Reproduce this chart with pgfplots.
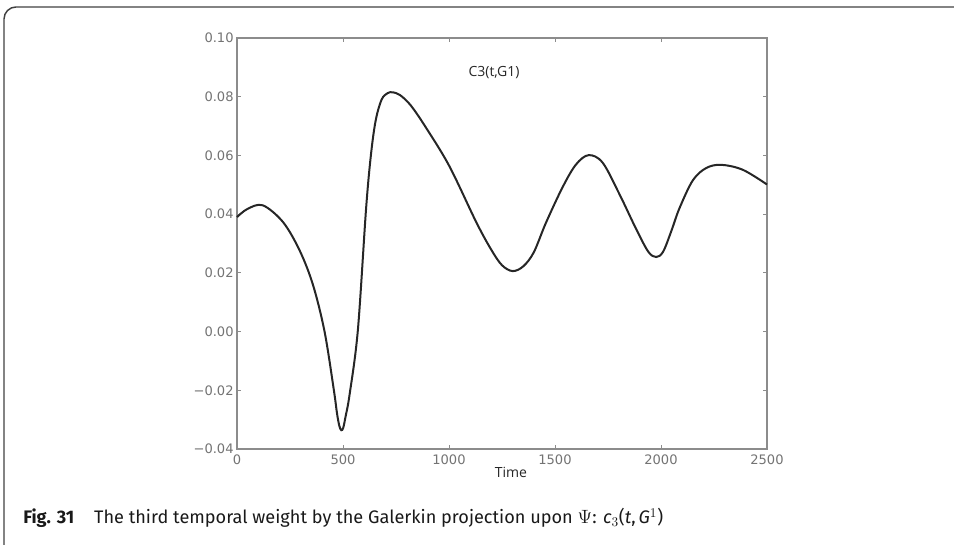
\documentclass[border=0pt]{standalone}
\usepackage{fontspec}
\setmainfont{Fira Sans}
\newfontfamily\dejavu{DejaVu Sans}
\newfontfamily\opensans{Open Sans}
\usepackage{pgfplots}
\pgfplotsset{compat=1.18}
\begin{document}
\begin{tikzpicture}[x=0.75pt,y=0.75pt]
\useasboundingbox (0,0) rectangle (954,545);
\draw[line width=1.1pt, black!75, rounded corners=9pt] (4,-5) -- (4,538) -- (960,538);
\begin{axis}[
  at={(177.75pt,72pt)}, anchor=south west,
  scale only axis, width=397.5pt, height=308.25pt,
  xmin=0, xmax=2500, ymin=-0.04, ymax=0.10,
  xtick={0,500,1000,1500,2000,2500},
  xticklabels={0,500,1000,1500,2000,2500},
  ytick={-0.04,-0.02,0,0.02,0.04,0.06,0.08,0.10},
  yticklabels={−0.04,−0.02,0.00,0.02,0.04,0.06,0.08,0.10},
  tick align=inside, major tick length=3pt,
  tick style={black!45, line width=0.6pt},
  axis line style={black!45, line width=1.1pt},
  ticklabel style={font=\dejavu\fontsize{9.8}{10}\selectfont, text=black!55},
  xticklabel style={yshift=-1pt},
  yticklabel style={xshift=1pt},
  xtick pos=both, ytick pos=both,
  scaled y ticks=false,
  clip=false,
]
\addplot[black!85, line width=1.5pt, smooth, tension=0.55] coordinates {
(0,0.0390) (50,0.0418) (122,0.0430) (217,0.0373) (295,0.0277) (358,0.0160)
(413,0.0000) (457,-0.0200) (472,-0.0280) (483,-0.0322) (492,-0.0336) (501,-0.0328)
(512,-0.0290) (531,-0.0215) (570,0.0004) (609,0.0420) (633,0.0610) (655,0.0722)
(682,0.0790) (710,0.0812) (735,0.0815) (770,0.0805) (820,0.0770) (892,0.0694) (1002,0.0563)
(1129,0.0372) (1200,0.0278) (1250,0.0226) (1300,0.0206) (1350,0.0222)
(1400,0.0270) (1457,0.0370) (1536,0.0492) (1599,0.0569) (1659,0.0601)
(1725,0.0575) (1804,0.0468) (1883,0.0349) (1940,0.0272) (1977,0.0254)
(2010,0.0272) (2050,0.0345) (2087,0.0420) (2150,0.0515) (2213,0.0557)
(2284,0.0568) (2386,0.0551) (2500,0.0501)
};
\node[font=\opensans\fontsize{10.5}{11}\selectfont, text=black!85] at (rel axis cs:0.517,-0.056) {Time};
\node[font=\opensans\fontsize{10.5}{11}\selectfont, text=black!85] at (rel axis cs:0.485,0.915) {C3(t,G1)};
\end{axis}
\node[anchor=base west, font=\fontsize{13.6}{15}\selectfont, inner sep=0pt, text=black!90] at (23,21)
  {\textbf{Fig. 31}\hspace{1.1em}The third temporal weight by the Galerkin projection upon $\Psi$: \textit{c}$_3$(\textit{t},\,\textit{G}$^1$)};
\end{tikzpicture}
\end{document}
